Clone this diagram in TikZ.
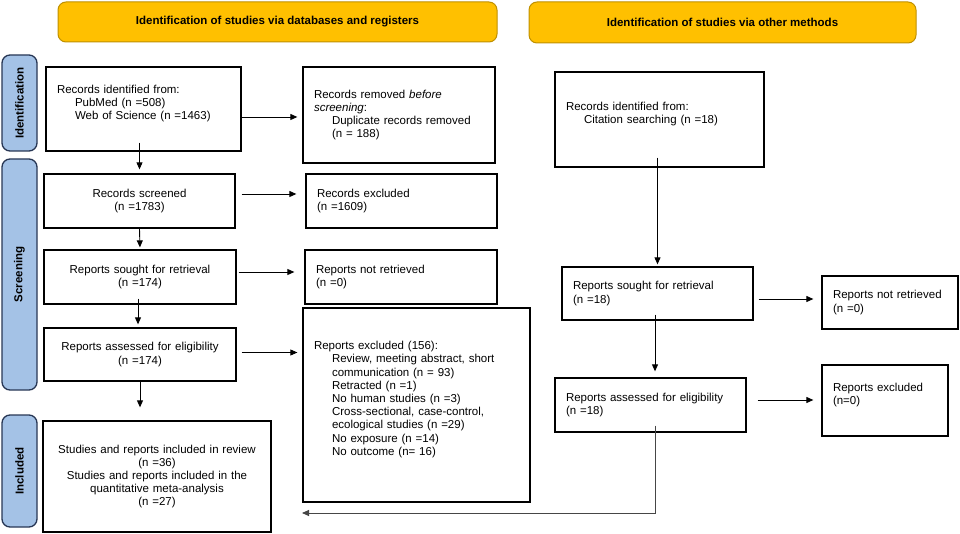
\documentclass[tikz,border=0pt]{standalone}
\usepackage{fontspec}
\setmainfont{Liberation Sans}
\usetikzlibrary{arrows.meta,calc}
\definecolor{hdrfill}{RGB}{255,192,0}
\definecolor{hdrdraw}{RGB}{191,144,0}
\definecolor{sidefill}{RGB}{164,194,230}
\definecolor{sidedraw}{RGB}{40,55,85}
\definecolor{linkgray}{RGB}{70,70,70}
\newcommand{\ind}{\hspace*{18pt}}
\begin{document}
\begin{tikzpicture}[x=1pt,y=-1pt,
  every node/.style={font=\fontsize{11.5}{13.2}\selectfont},
  box/.style={draw=black, line width=1.3pt, inner xsep=11pt, inner ysep=0pt},
  lbox/.style={box, align=left},
  cbox/.style={box, align=center},
  hdr/.style={draw=hdrdraw, fill=hdrfill, line width=1pt, rounded corners=8pt,
    font=\bfseries\fontsize{11.5}{13.2}\selectfont, inner sep=0pt},
  side/.style={draw=sidedraw, fill=sidefill, line width=1.3pt, rounded corners=8pt,
    rotate=90, minimum height=35pt, inner sep=0pt,
    font=\bfseries\fontsize{11.5}{13.2}\selectfont},
  arr/.style={line width=0.9pt, -{Triangle[length=7pt,width=6pt]}},
]
\useasboundingbox (0,0) rectangle (960,534);

% headers
\node[hdr, minimum width=439pt, minimum height=40pt] (hdrA) at (277.5,22) {Identification of studies via databases and registers};
\node[hdr, minimum width=387pt, minimum height=41pt] (hdrB) at (722.5,22.5) {Identification of studies via other methods};

% side labels
\node[side, minimum width=96pt] (sideId) at (19.5,103) {Identification};
\node[side, minimum width=231pt] (sideSc) at (19.5,274.5) {Screening};
\node[side, minimum width=112pt] (sideIn) at (19.5,471) {Included};

% left column boxes
\node[lbox, minimum width=195pt, minimum height=84pt, text width=173pt] (id) at (143.5,109)
  {Records identified from:\\ \ind PubMed (n =508)\\ \ind Web of Science (n =1463)\\ \mbox{}};
\node[lbox, minimum width=192pt, minimum height=96pt, text width=170pt] (removed) at (399,115)
  {Records removed \textit{before}\\ \textit{screening}:\\ \ind Duplicate records removed\\ \ind (n = 188)};
\node[cbox, minimum width=191pt, minimum height=54pt, text width=169pt] (screened) at (139.5,201)
  {Records screened\\ (n =1783)};
\node[lbox, minimum width=191pt, minimum height=54pt, text width=169pt] (rexcl) at (401.5,201)
  {Records excluded\\ (n =1609)};
\node[cbox, minimum width=192pt, minimum height=54pt, text width=170pt] (sought) at (140,277)
  {Reports sought for retrieval\\ (n =174)};
\node[lbox, minimum width=192pt, minimum height=54pt, text width=170pt] (notret) at (401,277)
  {Reports not retrieved\\ (n =0)};
\node[cbox, minimum width=192pt, minimum height=53pt, text width=170pt] (assessed) at (140,354.5)
  {Reports assessed for eligibility\\ (n =174)};
\node[lbox, minimum width=227pt, minimum height=194pt, text width=205pt] (excl) at (416.5,405)
  {Reports excluded (156):\\
   \ind Review, meeting abstract, short\\
   \ind communication (n = 93)\\
   \ind Retracted (n =1)\\
   \ind No human studies (n =3)\\
   \ind Cross-sectional, case-control,\\
   \ind ecological studies (n =29)\\
   \ind No exposure (n =14)\\
   \ind No outcome (n= 16)\\ \mbox{}};
\node[cbox, minimum width=228pt, minimum height=111pt, text width=206pt] (included) at (157,476.5)
  {Studies and reports included in review\\ (n =36)\\ Studies and reports included in the\\ quantitative meta-analysis\\ (n =27)};

% right column boxes
\node[lbox, minimum width=209pt, minimum height=95pt, text width=187pt] (cid) at (659.5,119.5)
  {Records identified from:\\ \ind Citation searching (n =18)\\ \mbox{}};
\node[lbox, minimum width=191pt, minimum height=53pt, text width=169pt] (rsought) at (657.5,293.5)
  {Reports sought for retrieval\\ (n =18)};
\node[lbox, minimum width=136pt, minimum height=53pt, text width=114pt] (rnotret) at (890,302.5)
  {Reports not retrieved\\ (n =0)};
\node[lbox, minimum width=191pt, minimum height=54pt, text width=169pt] (rassessed) at (650.5,405)
  {Reports assessed for eligibility\\ (n =18)};
\node[lbox, minimum width=126pt, minimum height=71pt, text width=104pt] (rexcl2) at (885,400.5)
  {Reports excluded\\ (n=0)\\ \mbox{}};

% connectors, left column
\coordinate (a1) at ([yshift=-8pt]id.east);
\draw[arr, shorten >=5pt] (a1) -- (a1 -| removed.west);
\draw[arr, shorten <=-9pt, shorten >=4pt] (screened.north |- id.south) -- (screened.north);
\coordinate (c1) at ([yshift=7pt]screened.east);
\draw[arr, shorten <=6pt, shorten >=9pt] (c1) -- (c1 -| rexcl.west);
\draw[arr, shorten >=2pt] (screened.south) -- (sought.north);
\coordinate (e1) at ([yshift=5pt]sought.east);
\draw[arr, shorten <=2pt, shorten >=10pt] (e1) -- (e1 -| notret.west);
\coordinate (f1) at ([xshift=-2pt]sought.south);
\draw[arr, shorten <=-6pt, shorten >=3pt] (f1) -- (f1 |- assessed.north);
\coordinate (g1) at ([yshift=2pt]assessed.east);
\draw[arr, shorten <=5pt, shorten >=5pt] (g1) -- (g1 -| excl.west);
\draw[arr, shorten >=13pt] (assessed.south) -- (assessed.south |- included.north);

% connectors, right column
\draw[arr, shorten <=-10pt, shorten >=2pt] (rsought.north |- cid.south) -- (rsought.north);
\coordinate (j1) at ([yshift=-5.5pt]rsought.east);
\draw[arr, shorten <=5pt, shorten >=8pt] (j1) -- (j1 -| rnotret.west);
\coordinate (k1) at ([xshift=-2.5pt]rsought.south);
\draw[arr, shorten <=-6pt, shorten >=6pt] (k1) -- (k1 |- rassessed.north);
\coordinate (l1) at ([yshift=5pt]rassessed.east);
\draw[arr, shorten <=11pt, shorten >=8pt] (l1) -- (l1 -| rexcl2.west);
\coordinate (m0) at ([xshift=4.5pt]rassessed.south);
\coordinate (mend) at (302,513);
\draw[arr, draw=linkgray, shorten <=-7pt] (m0) |- (mend);
\end{tikzpicture}
\end{document}
